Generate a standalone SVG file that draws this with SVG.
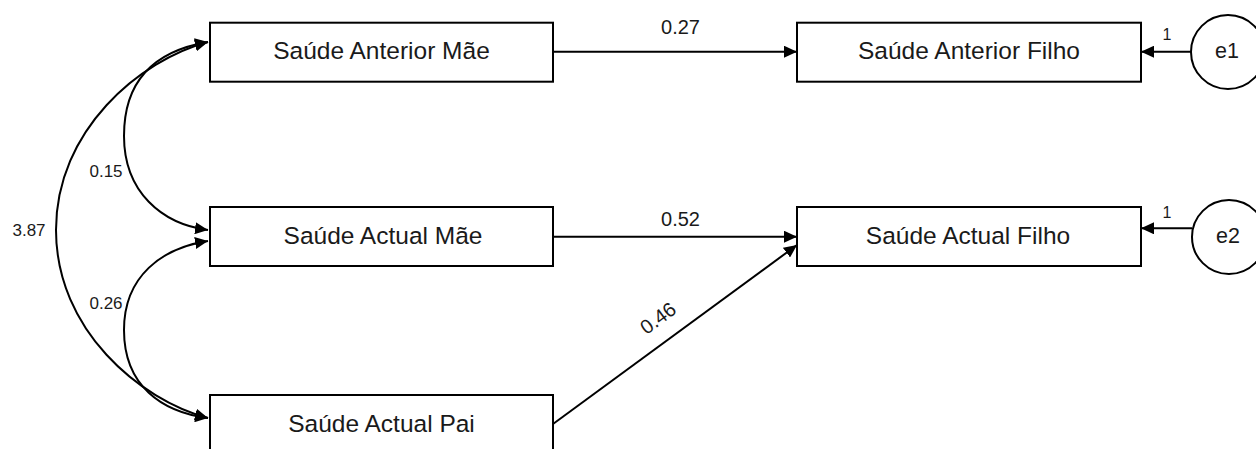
<svg xmlns="http://www.w3.org/2000/svg" width="1256" height="449" viewBox="0 0 1256 449">
  <defs>
    <marker id="arr" markerUnits="userSpaceOnUse" markerWidth="14" markerHeight="12" refX="13" refY="6" orient="auto-start-reverse">
      <path d="M0,0 L13,6 L0,12 z" fill="#000"/>
    </marker>
    <style>
      .box { fill: #fff; stroke: #000; stroke-width: 2; }
      .circ { fill: #fff; stroke: #000; stroke-width: 2; }
      .t { font-family: "Liberation Sans", Arial, sans-serif; fill: #1a1a1a; text-anchor: middle; }
      .bt { font-size: 24.5px; }
      .lbl { font-size: 20px; }
      .lbl2 { font-size: 17px; }
      .one { font-size: 16px; }
      .conn { fill: none; stroke: #000; stroke-width: 2; }
    </style>
  </defs>
  <rect width="1256" height="449" fill="#fff"/>

  <g id="connectors">
    <path class="conn" d="M553,51.7 L797,51.7" marker-end="url(#arr)"/>
    <path class="conn" d="M553,236.7 L797,236.7" marker-end="url(#arr)"/>
    <path class="conn" d="M553,424 L797,245" marker-end="url(#arr)"/>
    <path class="conn" d="M1191,51.7 L1141,51.7" marker-end="url(#arr)"/>
    <path class="conn" d="M1192,228.3 L1141,228.3" marker-end="url(#arr)"/>
    <path class="conn" d="M208,42 C140,60 56,130 56,230 C56,330 140,400 208,418" marker-start="url(#arr)" marker-end="url(#arr)"/>
    <path class="conn" d="M208,42 C160,50 124,76 124,136 C124,192 162,224 208,230" marker-start="url(#arr)" marker-end="url(#arr)"/>
    <path class="conn" d="M208,241 C162,248 124,276 124,330 C124,386 162,412 208,418" marker-start="url(#arr)" marker-end="url(#arr)"/>
    <text class="t lbl" x="680.5" y="33.5">0.27</text>
    <text class="t lbl" x="680.5" y="226">0.52</text>
    <text class="t lbl" transform="translate(658,318) rotate(-36.5)" x="0" y="7">0.46</text>
    <text class="t lbl2" x="106" y="177">0.15</text>
    <text class="t lbl2" x="29" y="236">3.87</text>
    <text class="t lbl2" x="106" y="309">0.26</text>
    <text class="t one" x="1167" y="39.5">1</text>
    <text class="t one" x="1167" y="217.5">1</text>
  </g>

  <g id="node-anterior-mae">
    <rect class="box" x="210" y="22.7" width="343" height="59"/>
    <text class="t bt" x="381.5" y="59">Saúde Anterior Mãe</text>
  </g>
  <g id="node-actual-mae">
    <rect class="box" x="210" y="207" width="343" height="59"/>
    <text class="t bt" x="383" y="244">Saúde Actual Mãe</text>
  </g>
  <g id="node-actual-pai">
    <rect class="box" x="210" y="395" width="343" height="59"/>
    <text class="t bt" x="381.5" y="431.5">Saúde Actual Pai</text>
  </g>
  <g id="node-anterior-filho">
    <rect class="box" x="797" y="22.7" width="344" height="59"/>
    <text class="t bt" x="969" y="59">Saúde Anterior Filho</text>
  </g>
  <g id="node-actual-filho">
    <rect class="box" x="797" y="207" width="344" height="59"/>
    <text class="t bt" x="968" y="244">Saúde Actual Filho</text>
  </g>
  <g id="node-e1">
    <circle class="circ" cx="1228" cy="52" r="37"/>
    <text class="t" style="font-size:21.5px" x="1227" y="57.5">e1</text>
  </g>
  <g id="node-e2">
    <circle class="circ" cx="1229" cy="237" r="37"/>
    <text class="t" style="font-size:21.5px" x="1228" y="243">e2</text>
  </g>
</svg>
